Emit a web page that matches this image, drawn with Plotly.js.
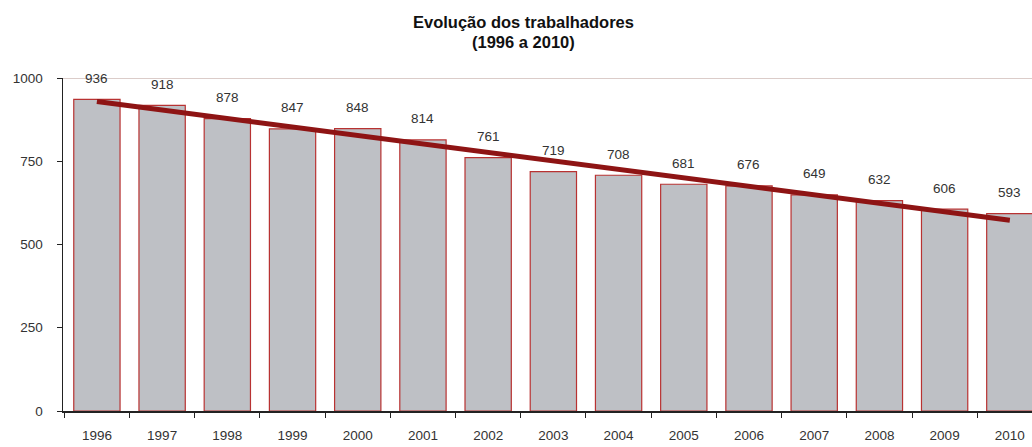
<!DOCTYPE html>
<html>
<head>
<meta charset="utf-8">
<script src="https://cdn.plot.ly/plotly-3.0.1.min.js"></script>
<style>html,body{margin:0;padding:0;background:#fff;}#chart{width:1032px;height:447px;}</style>
</head>
<body>
<div id="chart"></div>
<script>
const years = ['1996','1997','1998','1999','2000','2001','2002','2003','2004','2005','2006','2007','2008','2009','2010'];
const workers = [936, 918, 878, 847, 848, 814, 761, 719, 708, 681, 676, 649, 632, 606, 593];
const yTicks = [0, 250, 500, 750, 1000];
const titleLines = ['Evolução dos trabalhadores', '(1996 a 2010)'];

// linear trend (least squares) computed from the data
const n = workers.length;
const xs = workers.map((_, i) => i);
const mx = xs.reduce((a, b) => a + b, 0) / n;
const my = workers.reduce((a, b) => a + b, 0) / n;
let sxy = 0, sxx = 0;
for (let i = 0; i < n; i++) { sxy += (xs[i] - mx) * (workers[i] - my); sxx += (xs[i] - mx) ** 2; }
const slope = sxy / sxx;
const intercept = my - slope * mx;
const trend = xs.map(x => intercept + slope * x);

const mkFont = () => ({family: 'Liberation Sans, Arial, sans-serif', size: 13.5, color: '#333'});

const bars = {
  type: 'bar', x: years, y: workers,
  marker: {color: '#bec0c5', line: {color: '#b83232', width: 1.2}},
  width: 0.71, hoverinfo: 'x+y'
};
const line = {
  type: 'scatter', mode: 'lines', x: years, y: trend,
  line: {color: '#8e1414', width: 5}, hoverinfo: 'skip'
};

const annotations = years.map((yr, i) => ({
  x: i, y: workers[i], xref: 'x', yref: 'y', text: String(workers[i]),
  showarrow: false, yshift: 21, font: mkFont(), xanchor: 'center', yanchor: 'middle'
}));
titleLines.forEach((t, k) => annotations.push({
  xref: 'paper', yref: 'paper', x: 0.475, y: 1, yshift: 56 - 20 * k, xanchor: 'center', yanchor: 'middle',
  text: '<b>' + t + '</b>', showarrow: false,
  font: {family: 'Liberation Sans, Arial, sans-serif', size: 16.5, color: '#111'}
}));

const layout = {
  width: 1032, height: 447,
  margin: {l: 63, r: 0, t: 78, b: 36},
  paper_bgcolor: '#fff', plot_bgcolor: '#fff',
  showlegend: false, font: mkFont(),
  bargap: 0.29,
  xaxis: {
    type: 'category', range: [-0.52, 14.34], tickson: 'boundaries',
    ticks: 'outside', ticklen: 5, tickcolor: '#222', showline: true, linecolor: '#222', linewidth: 1.5,
    showgrid: false, zeroline: false, ticklabelstandoff: 11, tickfont: mkFont(), fixedrange: true
  },
  yaxis: {
    range: [0, 1000], tickvals: yTicks, ticktext: yTicks.map(String),
    ticks: 'outside', ticklen: 5, tickcolor: '#222', showline: true, linecolor: '#222', linewidth: 1.5,
    showgrid: false, zeroline: false, ticklabelstandoff: 11, tickfont: mkFont(), fixedrange: true
  },
  shapes: [{type: 'line', xref: 'paper', x0: 0, x1: 1, yref: 'y', y0: 1000, y1: 1000,
            line: {color: '#b89a94', width: 1}, layer: 'below'}],
  annotations: annotations
};

Plotly.newPlot('chart', [bars, line], layout, {displayModeBar: false, staticPlot: true});
</script>
</body>
</html>
